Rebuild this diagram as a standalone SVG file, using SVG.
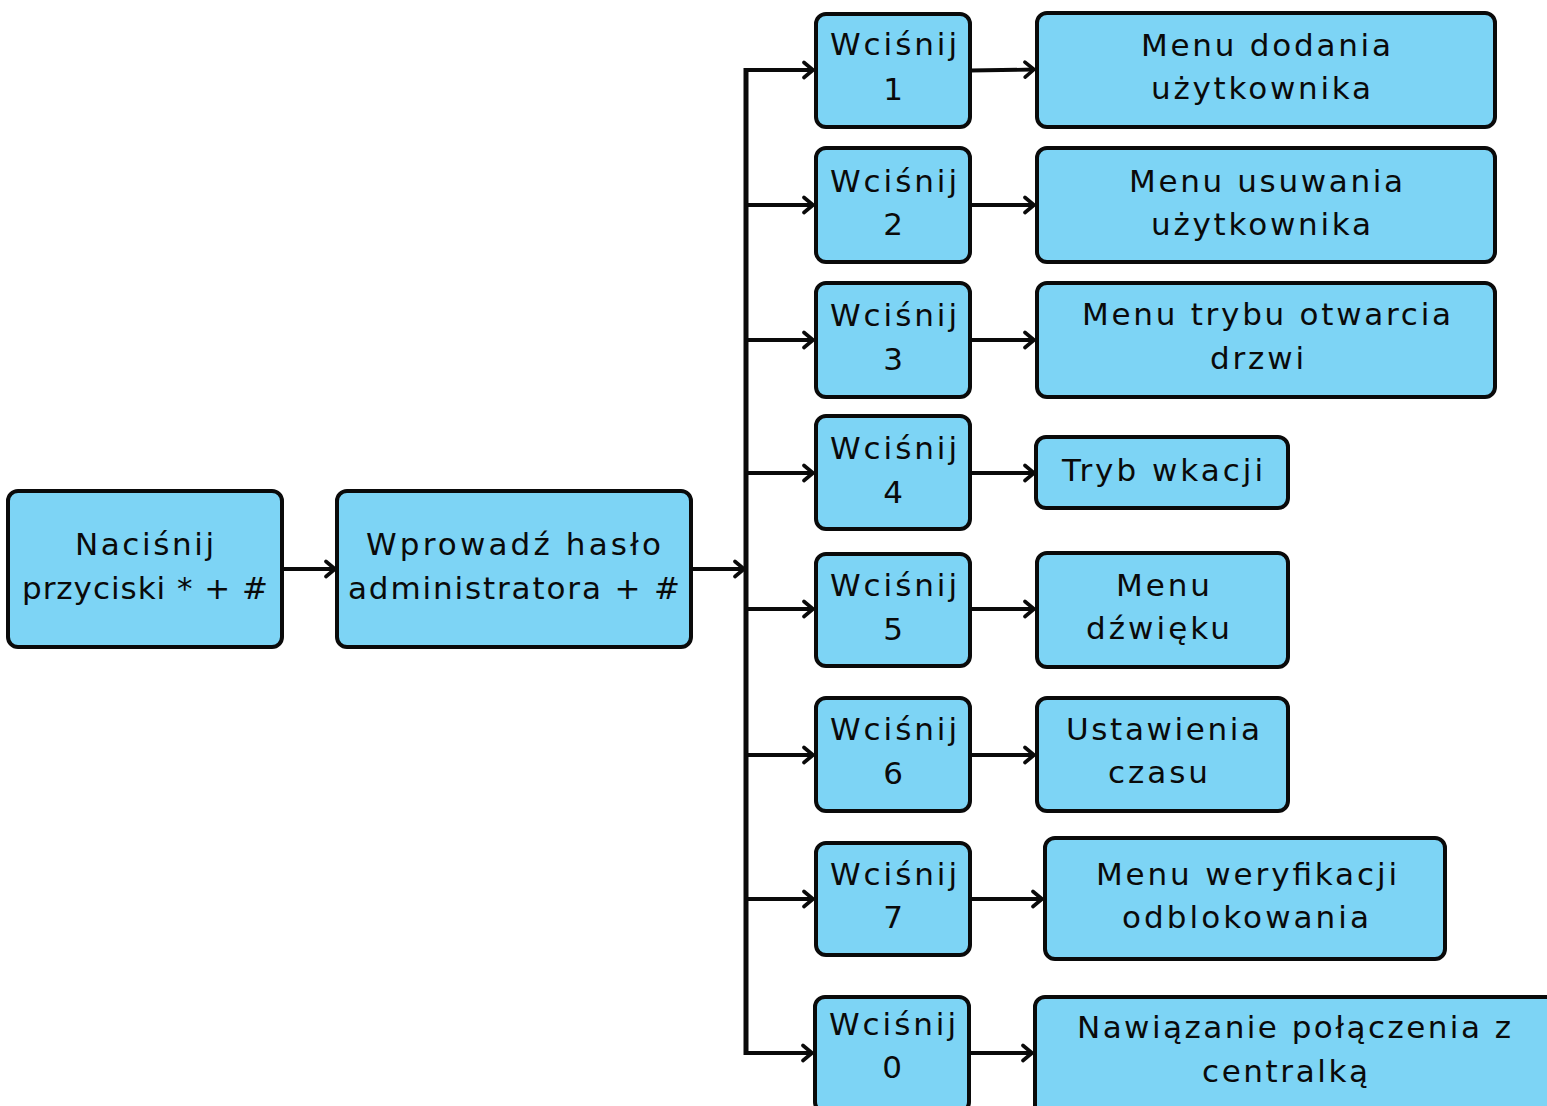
<svg xmlns="http://www.w3.org/2000/svg" width="1547" height="1106" viewBox="0 0 1547 1106">
<defs>
<style>
.box{fill:#7dd4f5;stroke:#0a0a0a;stroke-width:4}
.t{font-family:"DejaVu Sans","Liberation Sans",sans-serif;font-size:31px;fill:#0a0a0a}
.c{fill:none;stroke:#0a0a0a;stroke-width:3.8}
.trunk{fill:none;stroke:#0a0a0a;stroke-width:5}
</style>
<marker id="arr" markerUnits="userSpaceOnUse" viewBox="-14 -10 18 20" markerWidth="18" markerHeight="20" refX="0" refY="0" orient="auto">
<path d="M-9,-7.5 L0,0 L-9,7.5" fill="none" stroke="#0a0a0a" stroke-width="3.6" stroke-linecap="round" stroke-linejoin="round"/>
</marker>
</defs>
<rect width="1547" height="1106" fill="#ffffff"/>

<g id="connectors">
<line class="c" x1="282" y1="569" x2="335" y2="569" marker-end="url(#arr)"/>
<line class="c" x1="692" y1="569" x2="744" y2="569" marker-end="url(#arr)"/>
<line class="trunk" x1="746" y1="68" x2="746" y2="1055"/>
<line class="c" x1="744" y1="70" x2="813" y2="70" marker-end="url(#arr)"/>
<line class="c" x1="746" y1="205" x2="813" y2="205" marker-end="url(#arr)"/>
<line class="c" x1="746" y1="340" x2="813" y2="340" marker-end="url(#arr)"/>
<line class="c" x1="746" y1="473" x2="813" y2="473" marker-end="url(#arr)"/>
<line class="c" x1="746" y1="609" x2="813" y2="609" marker-end="url(#arr)"/>
<line class="c" x1="746" y1="755" x2="813" y2="755" marker-end="url(#arr)"/>
<line class="c" x1="746" y1="899" x2="813" y2="899" marker-end="url(#arr)"/>
<line class="c" x1="744" y1="1053" x2="812" y2="1053" marker-end="url(#arr)"/>
<line class="c" x1="970" y1="70.5" x2="1034" y2="69.5" marker-end="url(#arr)"/>
<line class="c" x1="970" y1="205" x2="1034" y2="205" marker-end="url(#arr)"/>
<line class="c" x1="970" y1="340" x2="1034" y2="340" marker-end="url(#arr)"/>
<line class="c" x1="970" y1="473" x2="1034" y2="473" marker-end="url(#arr)"/>
<line class="c" x1="970" y1="609" x2="1034" y2="609" marker-end="url(#arr)"/>
<line class="c" x1="970" y1="755" x2="1034" y2="755" marker-end="url(#arr)"/>
<line class="c" x1="970" y1="899" x2="1042" y2="899" marker-end="url(#arr)"/>
<line class="c" x1="969" y1="1053" x2="1032" y2="1053" marker-end="url(#arr)"/>
</g>

<g id="start">
<rect class="box" x="8" y="491" width="274" height="156" rx="10"/>
<text class="t" x="75" y="555" textLength="139" lengthAdjust="spacing">Naciśnij</text>
<text class="t" x="22" y="599" textLength="246" lengthAdjust="spacing">przyciski * + #</text>
</g>
<g id="password">
<rect class="box" x="337" y="491" width="354" height="156" rx="10"/>
<text class="t" x="366" y="555" textLength="295" lengthAdjust="spacing">Wprowadź hasło</text>
<text class="t" x="348" y="599" textLength="332" lengthAdjust="spacing">administratora + #</text>
</g>

<g id="key1">
<rect class="box" x="816" y="14" width="154" height="113" rx="10"/>
<text class="t" x="830" y="55" textLength="127" lengthAdjust="spacing">Wciśnij</text>
<text class="t" x="893" y="100" text-anchor="middle">1</text>
</g>
<g id="key2">
<rect class="box" x="816" y="148" width="154" height="114" rx="10"/>
<text class="t" x="830" y="192" textLength="127" lengthAdjust="spacing">Wciśnij</text>
<text class="t" x="893" y="235" text-anchor="middle">2</text>
</g>
<g id="key3">
<rect class="box" x="816" y="283" width="154" height="114" rx="10"/>
<text class="t" x="830" y="326" textLength="127" lengthAdjust="spacing">Wciśnij</text>
<text class="t" x="893" y="370" text-anchor="middle">3</text>
</g>
<g id="key4">
<rect class="box" x="816" y="416" width="154" height="113" rx="10"/>
<text class="t" x="830" y="459" textLength="127" lengthAdjust="spacing">Wciśnij</text>
<text class="t" x="893" y="503" text-anchor="middle">4</text>
</g>
<g id="key5">
<rect class="box" x="816" y="554" width="154" height="112" rx="10"/>
<text class="t" x="830" y="596" textLength="127" lengthAdjust="spacing">Wciśnij</text>
<text class="t" x="893" y="640" text-anchor="middle">5</text>
</g>
<g id="key6">
<rect class="box" x="816" y="698" width="154" height="113" rx="10"/>
<text class="t" x="830" y="740" textLength="127" lengthAdjust="spacing">Wciśnij</text>
<text class="t" x="893" y="784" text-anchor="middle">6</text>
</g>
<g id="key7">
<rect class="box" x="816" y="843" width="154" height="112" rx="10"/>
<text class="t" x="830" y="885" textLength="127" lengthAdjust="spacing">Wciśnij</text>
<text class="t" x="893" y="928" text-anchor="middle">7</text>
</g>
<g id="key0">
<rect class="box" x="815" y="997" width="154" height="115" rx="10"/>
<text class="t" x="829" y="1035" textLength="127" lengthAdjust="spacing">Wciśnij</text>
<text class="t" x="892" y="1078" text-anchor="middle">0</text>
</g>

<g id="menu1">
<rect class="box" x="1037" y="13" width="458" height="114" rx="10"/>
<text class="t" x="1141" y="56" textLength="250" lengthAdjust="spacing">Menu dodania</text>
<text class="t" x="1151" y="99" textLength="220" lengthAdjust="spacing">użytkownika</text>
</g>
<g id="menu2">
<rect class="box" x="1037" y="148" width="458" height="114" rx="10"/>
<text class="t" x="1129" y="192" textLength="274" lengthAdjust="spacing">Menu usuwania</text>
<text class="t" x="1151" y="235" textLength="220" lengthAdjust="spacing">użytkownika</text>
</g>
<g id="menu3">
<rect class="box" x="1037" y="283" width="458" height="114" rx="10"/>
<text class="t" x="1082" y="325" textLength="369" lengthAdjust="spacing">Menu trybu otwarcia</text>
<text class="t" x="1210" y="369" textLength="94" lengthAdjust="spacing">drzwi</text>
</g>
<g id="menu4">
<rect class="box" x="1036" y="437" width="252" height="71" rx="10"/>
<text class="t" x="1062" y="481" textLength="201" lengthAdjust="spacing">Tryb wkacji</text>
</g>
<g id="menu5">
<rect class="box" x="1037" y="553" width="251" height="114" rx="10"/>
<text class="t" x="1116" y="596" textLength="94" lengthAdjust="spacing">Menu</text>
<text class="t" x="1086" y="639" textLength="144" lengthAdjust="spacing">dźwięku</text>
</g>
<g id="menu6">
<rect class="box" x="1037" y="698" width="251" height="113" rx="10"/>
<text class="t" x="1066" y="740" textLength="194" lengthAdjust="spacing">Ustawienia</text>
<text class="t" x="1108" y="783" textLength="100" lengthAdjust="spacing">czasu</text>
</g>
<g id="menu7">
<rect class="box" x="1045" y="838" width="400" height="121" rx="10"/>
<text class="t" x="1096" y="885" textLength="301" lengthAdjust="spacing">Menu weryfikacji</text>
<text class="t" x="1122" y="928" textLength="247" lengthAdjust="spacing">odblokowania</text>
</g>
<g id="menu0">
<rect class="box" x="1035" y="997" width="525" height="118" rx="10"/>
<text class="t" x="1077" y="1038" textLength="434" lengthAdjust="spacing">Nawiązanie połączenia z</text>
<text class="t" x="1202" y="1082" textLength="166" lengthAdjust="spacing">centralką</text>
</g>
</svg>
